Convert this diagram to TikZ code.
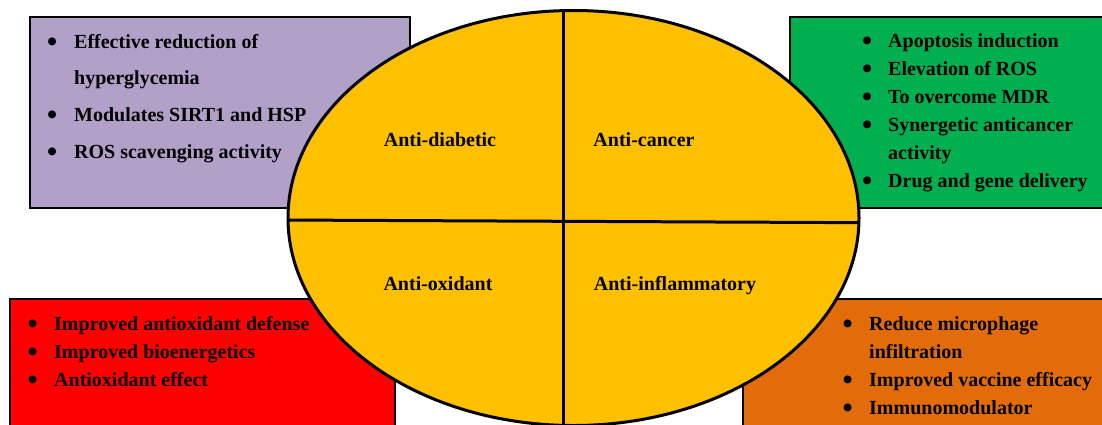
\documentclass[tikz,border=0pt]{standalone}
\usepackage{fontspec}
\setmainfont{Liberation Serif}
\usetikzlibrary{positioning}
\definecolor{lilac}{HTML}{B1A0C7}
\definecolor{leaf}{HTML}{00B050}
\definecolor{scarlet}{HTML}{FF0000}
\definecolor{rust}{HTML}{E26B0A}
\definecolor{gold}{HTML}{FFC000}
\newcommand{\dotmark}{\raisebox{-3.2pt}{\fontsize{29}{29}\selectfont\textbullet}}
\tikzset{panel/.style={draw=black,line width=2.6pt},divider/.style={draw=black,line width=3pt},pointlist/.style={anchor=base west,inner sep=0pt,align=left,font=\bfseries\fontsize{20}{28}\selectfont},quarterlabel/.style={anchor=base,inner sep=0pt,font=\bfseries\fontsize{20}{24}\selectfont}}

\begin{document}
\begin{tikzpicture}[x=1pt,y=-1pt]
\clip (0,0) rectangle (1102,424);
% panels
\draw[panel,fill=lilac] (30,17) rectangle (410,208);
\draw[panel,fill=leaf] (790,17) rectangle (1112,208);
\draw[panel,fill=scarlet] (10,299) rectangle (395,432);
\draw[panel,fill=rust] (743,299) rectangle (1112,432);
% lists
\node[pointlist,font=\bfseries\fontsize{20}{36.7}\selectfont] (diablist) at (47,48) {\begin{tabular}[t]{@{}p{27pt}@{}l@{}}\dotmark & Effective reduction of\\ & hyperglycemia\\ \dotmark & Modulates SIRT1 and HSP\\ \dotmark & ROS scavenging activity\end{tabular}};
\node[pointlist] (canclist) at (862,47) {\begin{tabular}[t]{@{}p{26pt}@{}l@{}}\dotmark & Apoptosis induction\\ \dotmark & Elevation of ROS\\ \dotmark & To overcome MDR\\ \dotmark & Synergetic anticancer\\ & activity\\ \dotmark & Drug and gene delivery\end{tabular}};
\node[pointlist] (oxilist) at (27.5,330) {\begin{tabular}[t]{@{}p{26.5pt}@{}l@{}}\dotmark & Improved antioxidant defense\\ \dotmark & Improved bioenergetics\\ \dotmark & Antioxidant effect\end{tabular}};
\node[pointlist] (infllist) at (842.5,330) {\begin{tabular}[t]{@{}p{26.5pt}@{}l@{}}\dotmark & Reduce microphage\\ & infiltration\\ \dotmark & Improved vaccine efficacy\\ \dotmark & Immunomodulator\end{tabular}};
% central ellipse
\fill[gold] (573.5,218) ellipse[x radius=285.5,y radius=207.5];
\begin{scope}
\clip (573.5,218) ellipse[x radius=285.5,y radius=207.5];
\draw[divider] (563,0) -- (563,432);
\draw[divider] (280,220) -- (870,222.7);
\end{scope}
\draw[divider] (573.5,218) ellipse[x radius=285.5,y radius=207.5];
\node[quarterlabel] (diab) at (440,146) {Anti-diabetic};
\node[quarterlabel] (canc) at (644,146) {Anti-cancer};
\node[quarterlabel] (oxi) at (438,290) {Anti-oxidant};
\node[quarterlabel] (infl) at (675,290) {Anti-inflammatory};
\end{tikzpicture}
\end{document}
